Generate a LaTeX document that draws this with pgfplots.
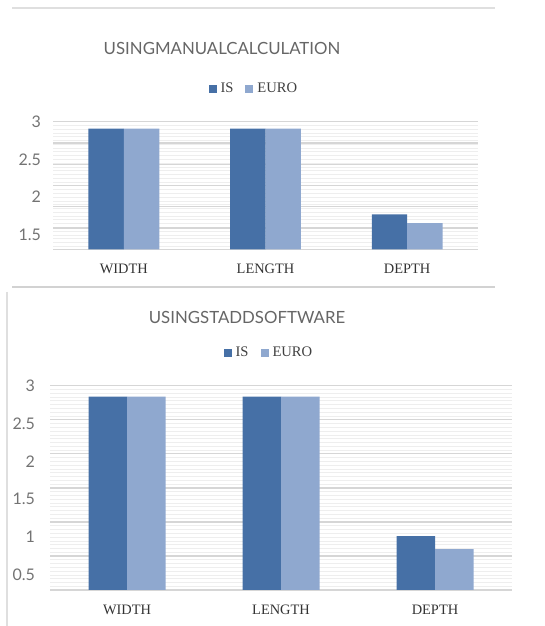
\documentclass[border=0pt]{standalone}
\usepackage{pgfplots}
\pgfplotsset{compat=1.18}
\usepackage{fontspec}
\setmainfont{Liberation Serif}
\newfontfamily\sansf{Lato}
\definecolor{isblue}{HTML}{4670A6}
\definecolor{eurob}{HTML}{8FA8CF}
\definecolor{gridmaj}{HTML}{D6D6D6}
\definecolor{gridmin}{HTML}{EEEEEE}
\pgfplotsset{
 mybar/.style={
   ybar=0pt, bar width=0.25, scale only axis,
   xmin=-0.5, xmax=2.5, xtick={0,1,2}, xticklabels={WIDTH,LENGTH,DEPTH},
   axis line style={draw=none},
   major tick length=0pt, minor tick length=0pt,
   yminorgrids=true,
   minor grid style={gridmin, line width=0.4pt},
   major grid style={gridmaj, line width=0.7pt},
   extra y tick labels={},
   extra y tick style={grid=major},
   /pgf/number format/assume math mode=true,
   yticklabel style={font=\sansf\fontsize{8}{9}\selectfont, text=black!55},
   xticklabel style={font=\fontsize{7.2}{8}\selectfont, text=black!80, yshift=-4pt},
   legend columns=2,
   legend image code/.code={\fill[#1,draw=none] (0pt,-2pt) rectangle (4pt,2pt);},
   legend style={draw=none, fill=none, font=\fontsize{7.3}{8}\selectfont, text=black!75,
     /tikz/every even column/.append style={column sep=4pt}},
 }
}
\begin{document}
\begin{tikzpicture}
\path[use as bounding box] (0pt,0pt) rectangle (272.5pt,313pt);
% decorative frame lines
\draw[gray!25, line width=0.6pt] (6pt,309pt) -- (247.5pt,309pt);
\draw[gray!35, line width=0.8pt] (6pt,169.5pt) -- (247.5pt,169.5pt);
\draw[gray!25, line width=0.6pt] (3.5pt,167pt) -- (3.5pt,0pt);
% titles
\node[font=\sansf\fontsize{8.4}{10}\selectfont, text=black!60] at (111pt,289pt) {USINGMANUALCALCULATION};
\node[font=\sansf\fontsize{8.4}{10}\selectfont, text=black!60] at (123.5pt,154.5pt) {USINGSTADDSOFTWARE};

\begin{axis}[mybar, at={(26.5pt,188.35pt)}, anchor=south west,
  width=212.5pt, height=63.8pt,
  ymin=1.31, ymax=3,
  ytick={1.5,2,2.5,3}, yticklabels={1.5,2,2.5,3},
  yticklabel style={xshift=-2.5pt},
  minor ytick={1.35,1.4,...,3.0},
  extra y ticks={3,2.718,2.437,2.155,1.873,1.592,1.31},
  legend style={at={(0.475,1.256)}, anchor=center}]
\addplot[fill=isblue, draw=none] coordinates {(0,2.907) (1,2.907) (2,1.774)};
\addplot[fill=eurob, draw=none] coordinates {(0,2.907) (1,2.907) (2,1.655)};
\legend{IS,EURO}
\end{axis}

\begin{axis}[mybar, at={(25pt,18pt)}, anchor=south west,
  width=231pt, height=102.15pt,
  ymin=0.302, ymax=3,
  ytick={0.5,1,1.5,2,2.5,3}, yticklabels={0.5,1,1.5,2,2.5,3},
  yticklabel style={xshift=-4pt},
  minor ytick={0.35,0.4,...,3.0},
  extra y ticks={3,2.550,2.101,1.651,1.201,0.752,0.302},
  legend style={at={(0.476,1.16)}, anchor=center}]
\addplot[fill=isblue, draw=none] coordinates {(0,2.855) (1,2.855) (2,1.015)};
\addplot[fill=eurob, draw=none] coordinates {(0,2.855) (1,2.855) (2,0.843)};
\legend{IS,EURO}
\end{axis}
\end{tikzpicture}
\end{document}
